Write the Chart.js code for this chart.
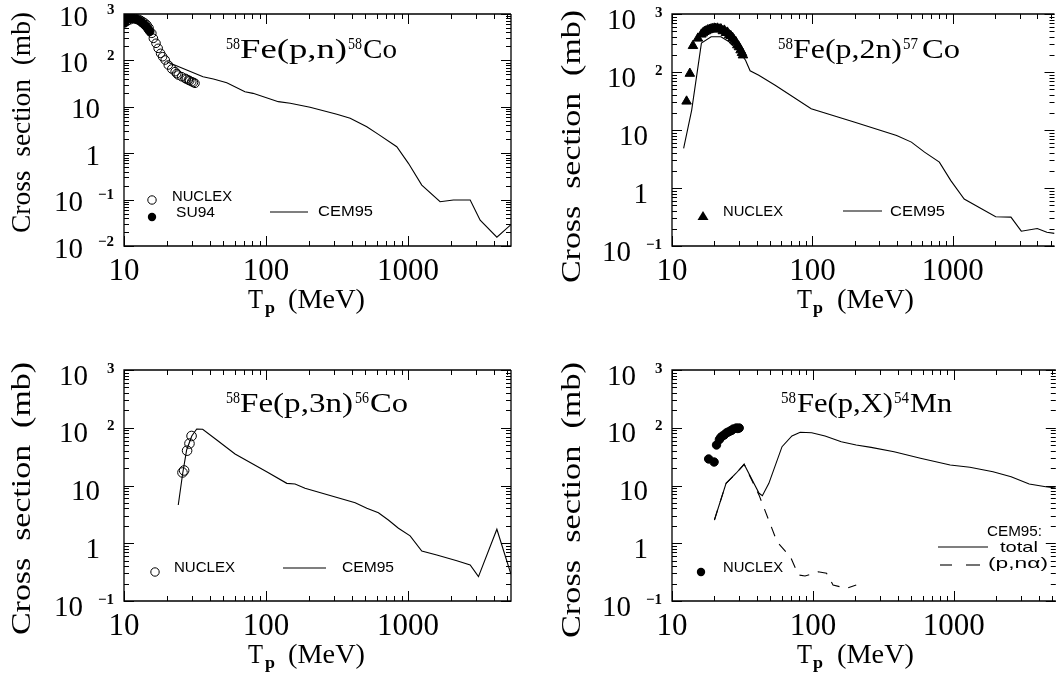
<!DOCTYPE html>
<html>
<head>
<meta charset="utf-8">
<script src="https://cdn.jsdelivr.net/npm/chart.js@4.4.0/dist/chart.umd.min.js"></script>
<style>
  html, body { margin: 0; padding: 0; background: #fff; overflow: hidden; }
  #wrap { position: relative; width: 1061px; height: 675px; }
  canvas { position: absolute; left: 0; top: 0; }
</style>
</head>
<body>
<div id="wrap">
  <canvas id="c1" width="1061" height="675"></canvas>
  <canvas id="c2" width="1061" height="675"></canvas>
  <canvas id="c3" width="1061" height="675"></canvas>
  <canvas id="c4" width="1061" height="675"></canvas>
</div>
<script>
// ---- data (energies in MeV, cross sections in mb) ----
const xTickLabels = ['10', '100', '1000'];

// 58Fe(p,n)58Co
const pnCemE  = [20, 36, 42.6, 52.9, 71, 81, 122, 148, 204, 315, 391, 512, 618, 832, 1005, 1248, 1679, 2084, 2735, 3215, 4215, 5300];
const pnCemXs = [94, 44.6, 39.7, 33.1, 21.1, 19.5, 12.9, 11.9, 9.75, 6.89, 5.65, 3.72, 2.55, 1.38, 0.605, 0.206, 0.090, 0.098, 0.098, 0.036, 0.0155, 0.029];
const pnNucE  = [10.5, 11, 11.5, 12, 12.5, 13, 13.5, 14, 14.5, 15, 15.7, 16.1, 16.8, 17.4, 18.1, 18.7, 19.5, 20.5, 21.7, 22.9, 23.5, 24.1, 25.5, 26.9, 27.5, 28.4, 29, 30.0, 30.8, 31.6];
const pnNucXs = [700, 750, 790, 800, 780, 740, 690, 640, 580, 500, 384, 299, 234, 182, 142, 120, 102, 79.6, 65.3, 57.1, 52, 48.4, 44.5, 41.1, 39.5, 37.8, 36.5, 34.8, 33.5, 32.1];
const pnSuE   = [10.1, 10.2, 10.4, 10.7, 11.0, 11.4, 11.8, 12.3, 12.8, 13.3, 13.8, 14.3, 14.8, 15.2];
const pnSuXs  = [640, 720, 780, 800, 815, 810, 790, 760, 720, 660, 600, 540, 470, 420];

// 58Fe(p,2n)57Co
const p2nCemE  = [12.1, 13.8, 16.2, 19.0, 22.3, 25.5, 30.8, 33.4, 36, 41.5, 54.3, 98, 198, 398, 507, 629, 802, 968, 1205, 1600, 2020, 2594, 3074, 3994, 4677, 5300];
const p2nCemXs = [4.8, 21.8, 315, 405, 405, 332, 209, 160, 105, 88, 59, 23.3, 13.7, 8.07, 6.18, 4.15, 2.79, 1.34, 0.647, 0.44, 0.32, 0.315, 0.18, 0.20, 0.173, 0.165];
const p2nNucE  = [12.7, 13.4, 14.1, 15.3, 16.2, 16.6, 17.0, 17.5, 18.0, 18.5, 19.0, 19.5, 20.0, 20.5, 21.1, 21.7, 22.3, 23.0, 23.6, 24.2, 24.8, 25.5, 26.2, 27.0, 27.7, 28.5, 29.2, 30.0, 30.8, 31.5, 32.0];
const p2nNucXs = [31.2, 94, 283, 380, 446, 470, 494, 510, 529, 540, 550, 555, 566, 560, 566, 545, 550, 510, 522, 475, 482, 435, 421, 390, 355, 330, 291, 270, 239, 215, 195];

// 58Fe(p,3n)56Co
const p3nCemE  = [24.1, 25.9, 27.6, 30.0, 32.5, 35.8, 45.0, 60.5, 101, 140, 160, 188, 424, 512, 618, 726, 855, 1033, 1248, 1592, 2203, 2735, 3128, 4215, 5300];
const p3nCemXs = [4.59, 16.3, 41.2, 72, 95, 94, 61.4, 35.1, 17.3, 10.9, 10.6, 8.95, 5.04, 4.03, 3.38, 2.53, 1.82, 1.34, 0.734, 0.627, 0.499, 0.420, 0.264, 1.75, 0.29];
const p3nNucE  = [25.8, 26.5, 27.8, 28.9, 29.9];
const p3nNucXs = [16.8, 18.2, 40.1, 53.3, 72];

// 58Fe(p,X)54Mn
const mnTotE   = [20.0, 24.2, 28.5, 32.5, 41.5, 43.8, 48.7, 60.4, 71.0, 81.3, 98.1, 122, 159, 203, 259, 377, 580, 943, 1302, 1899, 2553, 3431, 4496, 5300];
const mnTotXs  = [2.53, 10.9, 16.3, 23.3, 7.33, 6.66, 10.9, 47, 72, 83.4, 82, 72, 57.3, 50.3, 45.8, 38.5, 29.6, 22.6, 20.7, 17.3, 14.2, 10.6, 9.5, 9.06];
const mnPnaE   = [20.0, 24.2, 28.5, 32.5, 41.5, 55.7, 69.2, 79, 88, 109, 125, 139, 173, 203];
const mnPnaXs  = [2.53, 10.9, 16.3, 23.3, 6.8, 1.06, 0.585, 0.282, 0.271, 0.321, 0.302, 0.189, 0.166, 0.189];
const mnNucE   = [18.2, 19.9, 20.7, 21.7, 22.2, 22.8, 23.5, 24.3, 25.0, 25.9, 26.5, 27.2, 28.6, 29.3, 30.0];
const mnNucXs  = [28.8, 25.5, 50.3, 62.6, 68, 72, 75, 81.1, 84, 87.9, 90, 95, 99, 97, 99];

// ---- helpers ----
const serif = '"Liberation Serif", "Times New Roman", serif';
const sans = '"Liberation Sans", Arial, sans-serif';
const W = 1061, H = 675;

function pts(xs, ys) {
    return xs.map((x, i) => ({ x: x, y: ys[i] }));
}

function lineSet(xs, ys, dash) {
    return {
        data: pts(xs, ys),
        showLine: true,
        borderColor: '#000',
        borderWidth: 1.1,
        borderDash: dash || [],
        pointRadius: 0,
        tension: 0
    };
}

function markSet(xs, ys, style, filled, r) {
    return {
        data: pts(xs, ys),
        pointStyle: style,
        pointRadius: r,
        borderWidth: 1,
        borderColor: '#000',
        backgroundColor: filled ? '#000' : 'rgba(0,0,0,0)'
    };
}

// text drawn with optional horizontal fit to a width
function put(ctx, str, x, y, font, w, align, base) {
    ctx.save();
    ctx.font = font;
    ctx.fillStyle = '#000';
    ctx.textAlign = 'left';
    ctx.textBaseline = base || 'alphabetic';
    const w0 = ctx.measureText(str).width;
    const sx = w ? w / w0 : 1;
    let x0 = x;
    if (align === 'center') x0 = x - w0 * sx / 2;
    if (align === 'right') x0 = x - w0 * sx;
    ctx.translate(x0, y);
    ctx.scale(sx, 1);
    ctx.fillText(str, 0, 0);
    ctx.restore();
}

function logTicks(min, max) {
    const out = [];
    for (let e = Math.floor(Math.log10(min)); e <= Math.ceil(Math.log10(max)); e++) {
        for (let k = 1; k <= 9; k++) {
            const v = k * Math.pow(10, e);
            if (v >= min * 0.999 && v <= max * 1.001) out.push([v, k === 1]);
        }
    }
    return out;
}

function marker(ctx, type, x, y) {
    ctx.save();
    ctx.strokeStyle = '#000';
    ctx.fillStyle = '#000';
    ctx.lineWidth = 1;
    ctx.beginPath();
    if (type === 'tri') {
        ctx.moveTo(x, y - 5);
        ctx.lineTo(x + 5.5, y + 4);
        ctx.lineTo(x - 5.5, y + 4);
        ctx.closePath();
        ctx.fill();
    } else {
        ctx.arc(x, y, 4.2, 0, Math.PI * 2);
        if (type === 'dot') ctx.fill(); else ctx.stroke();
    }
    ctx.restore();
}

function seg(ctx, x1, x2, y) {
    ctx.save();
    ctx.strokeStyle = '#000';
    ctx.lineWidth = 1.1;
    ctx.beginPath();
    ctx.moveTo(x1, y);
    ctx.lineTo(x2, y);
    ctx.stroke();
    ctx.restore();
}

function makeDecor(p) {
    return {
        id: 'decor',
        afterDraw(chart) {
            const ctx = chart.ctx;
            const a = chart.chartArea;
            const xs = chart.scales.x, ys = chart.scales.y;

            // frame
            ctx.save();
            ctx.strokeStyle = '#000';
            ctx.lineWidth = 1.3;
            ctx.beginPath();
            ctx.moveTo(a.right, a.top);
            ctx.lineTo(a.left, a.top);
            ctx.lineTo(a.left, a.bottom);
            ctx.lineTo(a.right, a.bottom);
            if (p.closeRight) ctx.lineTo(a.right, a.top);
            ctx.stroke();

            // inward ticks on all sides
            ctx.lineWidth = 1;
            ctx.beginPath();
            logTicks(xs.min, xs.max).forEach(([v, major]) => {
                const px = Math.round(xs.getPixelForValue(v)) + 0.5;
                const len = major ? 10 : 5;
                ctx.moveTo(px, a.bottom); ctx.lineTo(px, a.bottom - len);
                ctx.moveTo(px, a.top); ctx.lineTo(px, a.top + len);
            });
            logTicks(ys.min, ys.max).forEach(([v, major]) => {
                const py = Math.round(ys.getPixelForValue(v)) + 0.5;
                const len = major ? 10 : 5;
                ctx.moveTo(a.left, py); ctx.lineTo(a.left + len, py);
                ctx.moveTo(a.right, py); ctx.lineTo(a.right - len, py);
            });
            ctx.stroke();
            ctx.restore();

            // x tick labels
            xTickLabels.forEach(s => {
                put(ctx, s, xs.getPixelForValue(Number(s)), a.bottom + 34, '31px ' + serif, null, 'center');
            });

            // y tick labels: 10 with exponent
            const big = '29px ' + serif, small = 'bold 15px ' + serif;
            for (let e = Math.ceil(Math.log10(ys.min) - 1e-9); e <= Math.floor(Math.log10(ys.max) + 1e-9); e++) {
                const cy = ys.getPixelForValue(Math.pow(10, e)) + p.labOff;
                const base = cy + 9.6;
                if (e === 0 || e === 1) {
                    put(ctx, e === 0 ? '1' : '10', a.left - 24, base, big, null, 'right');
                } else if (e > 0) {
                    put(ctx, '10', a.left - 36, base, big, null, 'right');
                    put(ctx, String(e), a.left - 17, cy - 2.5, small, null, 'left');
                } else {
                    put(ctx, '10', a.left - 41, base, big, null, 'right');
                    put(ctx, '\u2212' + (-e), a.left - 26, cy - 2.5, small, 16, 'left');
                }
            }

            // axis titles
            ctx.save();
            ctx.translate(p.yTitle.x, p.yTitle.y0);
            ctx.rotate(-Math.PI / 2);
            put(ctx, 'Cross  section  (mb)', 0, 0, '28px ' + serif, p.yTitle.len, 'left');
            ctx.restore();
            put(ctx, 'T', p.xTitle[0], a.bottom + 62, '28px ' + serif, 15, 'left');
            put(ctx, 'p', p.xTitle[1], a.bottom + 67, 'bold 17px ' + serif, 10, 'left');
            put(ctx, '(MeV)', p.xTitle[2], a.bottom + 62, '28px ' + serif, 77, 'left');

            // reaction title
            p.title.forEach(([s, x, w, sup]) => {
                put(ctx, s, x, sup ? p.titleBase - 9 : p.titleBase, sup ? '17px ' + serif : '27px ' + serif, w, 'left');
            });

            // legend
            p.legend.forEach(it => {
                if (it.t) put(ctx, it.t, it.x, it.y, '14.5px ' + sans, it.w, it.align || 'left', 'middle');
                else if (it.m) marker(ctx, it.m, it.x, it.y);
                else if (it.seg) seg(ctx, it.seg[0], it.seg[1], it.y);
            });
        }
    };
}

function makeChart(id, p, datasets) {
    const b = p.box;
    return new Chart(document.getElementById(id), {
        type: 'scatter',
        data: { datasets: datasets },
        options: {
            responsive: false,
            animation: false,
            events: [],
            layout: { padding: { left: b.l, top: b.t, right: W - b.r, bottom: H - b.b } },
            plugins: { legend: { display: false }, tooltip: { enabled: false } },
            scales: {
                x: { type: 'logarithmic', min: 10, max: 5300, display: false },
                y: { type: 'logarithmic', min: p.ymin, max: 1000, display: false }
            }
        },
        plugins: [makeDecor(p)]
    });
}

// Panel 1: (p,n)
makeChart('c1', {
    box: { l: 124, t: 14, r: 511, b: 246 }, ymin: 0.01, labOff: 2, closeRight: true,
    yTitle: { x: 30, y0: 233, len: 221 }, xTitle: [248, 265, 288],
    titleBase: 57.5,
    title: [['58', 226, 14, true], ['Fe(p,n)', 240, 107], ['58', 348, 14, true], ['Co', 363, 34]],
    legend: [
        { m: 'ring', x: 152, y: 200 }, { t: 'NUCLEX', x: 172, y: 197, w: 60 },
        { m: 'dot', x: 152, y: 217 }, { t: 'SU94', x: 176, y: 213, w: 39 },
        { seg: [270, 308], y: 212 }, { t: 'CEM95', x: 318, y: 212, w: 55 }
    ]
}, [
    markSet(pnSuE, pnSuXs, 'circle', true, 4.2),
    markSet(pnNucE, pnNucXs, 'circle', false, 4.3),
    lineSet(pnCemE, pnCemXs)
]);

// Panel 2: (p,2n)
makeChart('c2', {
    box: { l: 672, t: 14, r: 1060, b: 246 }, ymin: 0.1, labOff: 5, closeRight: false,
    yTitle: { x: 580, y0: 283, len: 273 }, xTitle: [797, 813, 837],
    titleBase: 57.5,
    title: [['58', 778, 15, true], ['Fe(p,2n)', 793, 109], ['57', 903, 15, true], ['Co', 922, 38]],
    legend: [
        { m: 'tri', x: 703, y: 216 }, { t: 'NUCLEX', x: 723, y: 212, w: 60 },
        { seg: [843, 882], y: 211 }, { t: 'CEM95', x: 890, y: 212, w: 55 }
    ]
}, [
    markSet(p2nNucE, p2nNucXs, 'triangle', true, 5.5),
    lineSet(p2nCemE, p2nCemXs)
]);

// Panel 3: (p,3n)
makeChart('c3', {
    box: { l: 124, t: 370, r: 511, b: 601 }, ymin: 0.1, labOff: 5, closeRight: true,
    yTitle: { x: 30, y0: 635, len: 273 }, xTitle: [248, 265, 288],
    titleBase: 411.7,
    title: [['58', 226, 14, true], ['Fe(p,3n)', 240, 113], ['56', 355, 14, true], ['Co', 370, 38]],
    legend: [
        { m: 'ring', x: 155, y: 572 }, { t: 'NUCLEX', x: 174, y: 568, w: 61 },
        { seg: [283, 326], y: 568 }, { t: 'CEM95', x: 342, y: 568, w: 52 }
    ]
}, [
    markSet(p3nNucE, p3nNucXs, 'circle', false, 4.8),
    lineSet(p3nCemE, p3nCemXs)
]);

// Panel 4: (p,X)54Mn
makeChart('c4', {
    box: { l: 672, t: 370, r: 1060, b: 601 }, ymin: 0.1, labOff: 5, closeRight: false,
    yTitle: { x: 580, y0: 638, len: 276 }, xTitle: [797, 813, 837],
    titleBase: 411.7,
    title: [['58', 781, 15, true], ['Fe(p,X)', 797, 96], ['54', 894, 15, true], ['Mn', 910, 42]],
    legend: [
        { m: 'dot', x: 701, y: 572 }, { t: 'NUCLEX', x: 723, y: 568, w: 60 },
        { t: 'CEM95:', x: 1042, y: 532, w: 55, align: 'right' },
        { seg: [938, 988], y: 547 }, { t: 'total', x: 1000, y: 548, w: 38 },
        { seg: [940, 952], y: 565 }, { seg: [966, 980], y: 565 }, { t: '(p,n\u03b1)', x: 988, y: 564, w: 60 }
    ]
}, [
    markSet(mnNucE, mnNucXs, 'circle', true, 4.2),
    lineSet(mnPnaE, mnPnaXs, [10, 9]),
    lineSet(mnTotE, mnTotXs)
]);
</script>
</body>
</html>
